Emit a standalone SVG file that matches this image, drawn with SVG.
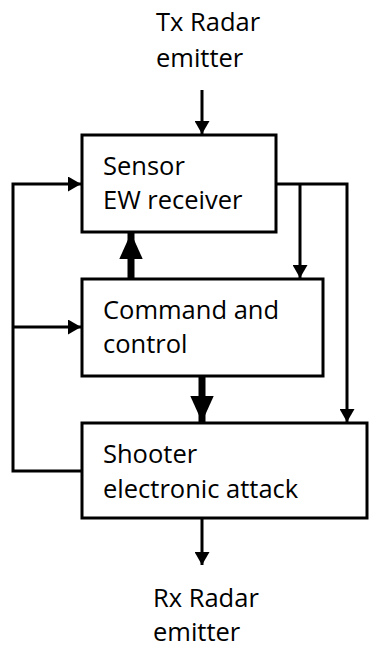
<svg xmlns="http://www.w3.org/2000/svg" width="369" height="650" viewBox="0 0 369 650">
<style>
.box{fill:#fff;stroke:#000;stroke-width:3}
.t{font-family:"Open Sans","Liberation Sans",sans-serif;font-size:25.5px;fill:#000}
.ln{fill:none;stroke:#000;stroke-width:3}
.thk{fill:none;stroke:#000;stroke-width:7}
</style>
<defs>
<marker id="ah" viewBox="0 0 13 15" refX="13" refY="7.5" markerWidth="13" markerHeight="15" markerUnits="userSpaceOnUse" orient="auto"><path d="M0,0 L13,7.5 L0,15 Z" fill="#000"/></marker>
<marker id="ahb" viewBox="0 0 10 10" refX="10" refY="5" markerWidth="26" markerHeight="26" markerUnits="userSpaceOnUse" orient="auto"><path d="M0,0.5 L10,5 L0,9.5 Z" fill="#000"/></marker>
</defs>
<g id="labels">
<text class="t" x="156" y="31">Tx Radar</text>
<text class="t" x="156" y="67">emitter</text>
<text class="t" x="153" y="607">Rx Radar</text>
<text class="t" x="153" y="641">emitter</text>
</g>
<g id="connectors">
<line class="ln" x1="202" y1="90" x2="202" y2="134" marker-end="url(#ah)"/>
<polyline class="ln" points="84,471 13,471 13,184 81,184" marker-end="url(#ah)"/>
<line class="ln" x1="13" y1="327" x2="81" y2="327" marker-end="url(#ah)"/>
<polyline class="ln" points="276,184 347,184 347,422" marker-end="url(#ah)"/>
<line class="ln" x1="300" y1="184" x2="300" y2="278" marker-end="url(#ah)"/>
<line class="thk" x1="131" y1="279" x2="131" y2="233" marker-end="url(#ahb)"/>
<line class="thk" x1="202" y1="376" x2="202" y2="422" marker-end="url(#ahb)"/>
<line class="ln" x1="202" y1="518" x2="202" y2="565" marker-end="url(#ah)"/>
</g>
<g id="sensor">
<rect class="box" x="82" y="135" width="194" height="97"/>
<text class="t" x="103" y="175">Sensor</text>
<text class="t" x="103" y="209">EW receiver</text>
</g>
<g id="command">
<rect class="box" x="82" y="279" width="241" height="97"/>
<text class="t" x="103" y="319">Command and</text>
<text class="t" x="103" y="353">control</text>
</g>
<g id="shooter">
<rect class="box" x="82" y="423" width="285" height="95"/>
<text class="t" x="103" y="463">Shooter</text>
<text class="t" x="103" y="498">electronic attack</text>
</g>
</svg>
